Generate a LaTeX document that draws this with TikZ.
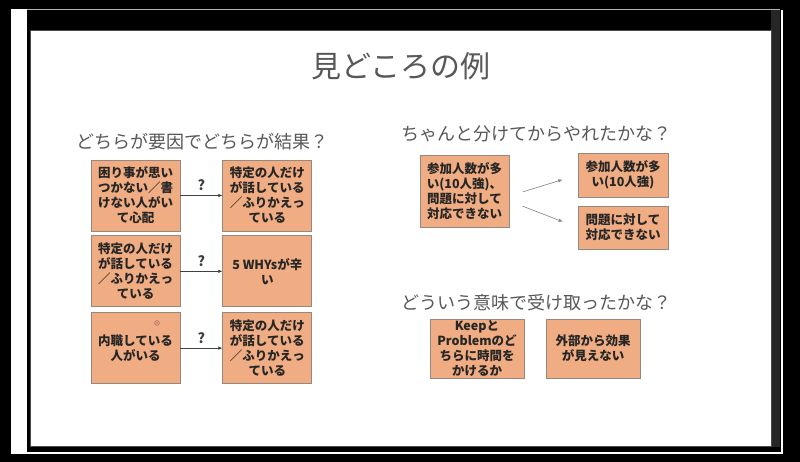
\documentclass[tikz,border=0pt]{standalone}
\usepackage{fontspec}
\setmainfont{Noto Sans CJK JP}
\usetikzlibrary{positioning,arrows.meta}
\definecolor{tagfill}{RGB}{240,172,130}
\definecolor{tagline}{RGB}{150,136,126}
\definecolor{headgray}{RGB}{88,88,88}

\begin{document}
\begin{tikzpicture}[x=1pt,y=-1pt,
    card/.style={draw=tagline,fill=tagfill,line width=0.8pt,minimum width=89pt,minimum height=71pt,
      inner sep=0pt,align=center,text=black!85,font=\bfseries\fontsize{12.5}{15}\selectfont},
    head/.style={anchor=west,text=headgray,font=\fontsize{18}{20}\selectfont},
    link/.style={-{Latex[length=4pt,width=3.5pt]},black!75,line width=0.6pt},
    ask/.style={font=\bfseries\fontsize{14}{16}\selectfont}]
        % screen frame
        \fill[black] (0,0) rectangle (800,462);
        \fill[white] (11,9) rectangle (27,454);
        \fill[white] (11,452) rectangle (783,454);
        \fill[white] (781,10) rectangle (783,454);
        \fill[black!85] (771,10) rectangle (780,447);
        \draw[gray!60,line width=0.5pt] (27,9) -- (780,9);
        \draw[fill=white,draw=black!70,line width=1pt] (30,31) rectangle (771,446);

        \node[text=headgray,font=\fontsize{30}{32}\selectfont] (title) at (401,66) {見どころの例};

        % left: cause or effect
        \node[head] (q1) at (73,142) {どちらが要因でどちらが結果？};
        \node[card] (l1) at (135.5,195.5) {困り事が思い\\つかない／書\\けない人がい\\て心配};
        \node[card,right=42pt of l1] (r1) {特定の人だけ\\が話している\\／ふりかえっ\\ている};
        \node[card,below=4pt of l1] (l2) {特定の人だけ\\が話している\\／ふりかえっ\\ている};
        \node[card,right=42pt of l2] (r2) {5 WHYsが辛\\い};
        \node[card,below=5pt of l2] (l3) {内職している\\人がいる};
        \node[card,right=42pt of l3] (r3) {特定の人だけ\\が話している\\／ふりかえっ\\ている};
        \foreach \a/\b in {l1/r1,l2/r2,l3/r3} {
            \draw[link] (\a) -- node[ask,above=1pt] {?} (\b);
          }
        \draw[red!55!black!60,line width=0.6pt] (157,323) circle (2.4pt);
        \fill[black!50] (157,323) circle (0.9pt);

        % right top: split
        \node[head] (q2) at (398,134) {ちゃんと分けてからやれたかな？};
        \node[card,minimum height=72pt] (both) at (464.5,191) {参加人数が多\\い(10人強)、\\問題に対して\\対応できない};
        \node[card,minimum width=90pt,minimum height=44pt] (many) at (623,175) {参加人数が多\\い(10人強)};
        \node[card,minimum width=90pt,minimum height=43pt] (cope) at (623,227.5) {問題に対して\\対応できない};
        \draw[link,black!50,shorten <=14pt,shorten >=16pt] ([yshift=-5pt]both.east) -- (many.west);
        \draw[link,black!50,shorten <=14pt,shorten >=16pt] ([yshift=-10pt]both.east) -- (cope.west);

        % right bottom: meaning
        \node[head] (q3) at (398,303) {どういう意味で受け取ったかな？};
        \node[card,minimum width=94pt,minimum height=59pt] (keep) at (477,348.5) {Keepと\\Problemのど\\ちらに時間を\\かけるか};
        \node[card,minimum width=94pt,minimum height=59pt] (outside) at (593,348.5) {外部から効果\\が見えない};
      \end{tikzpicture}
\end{document}
